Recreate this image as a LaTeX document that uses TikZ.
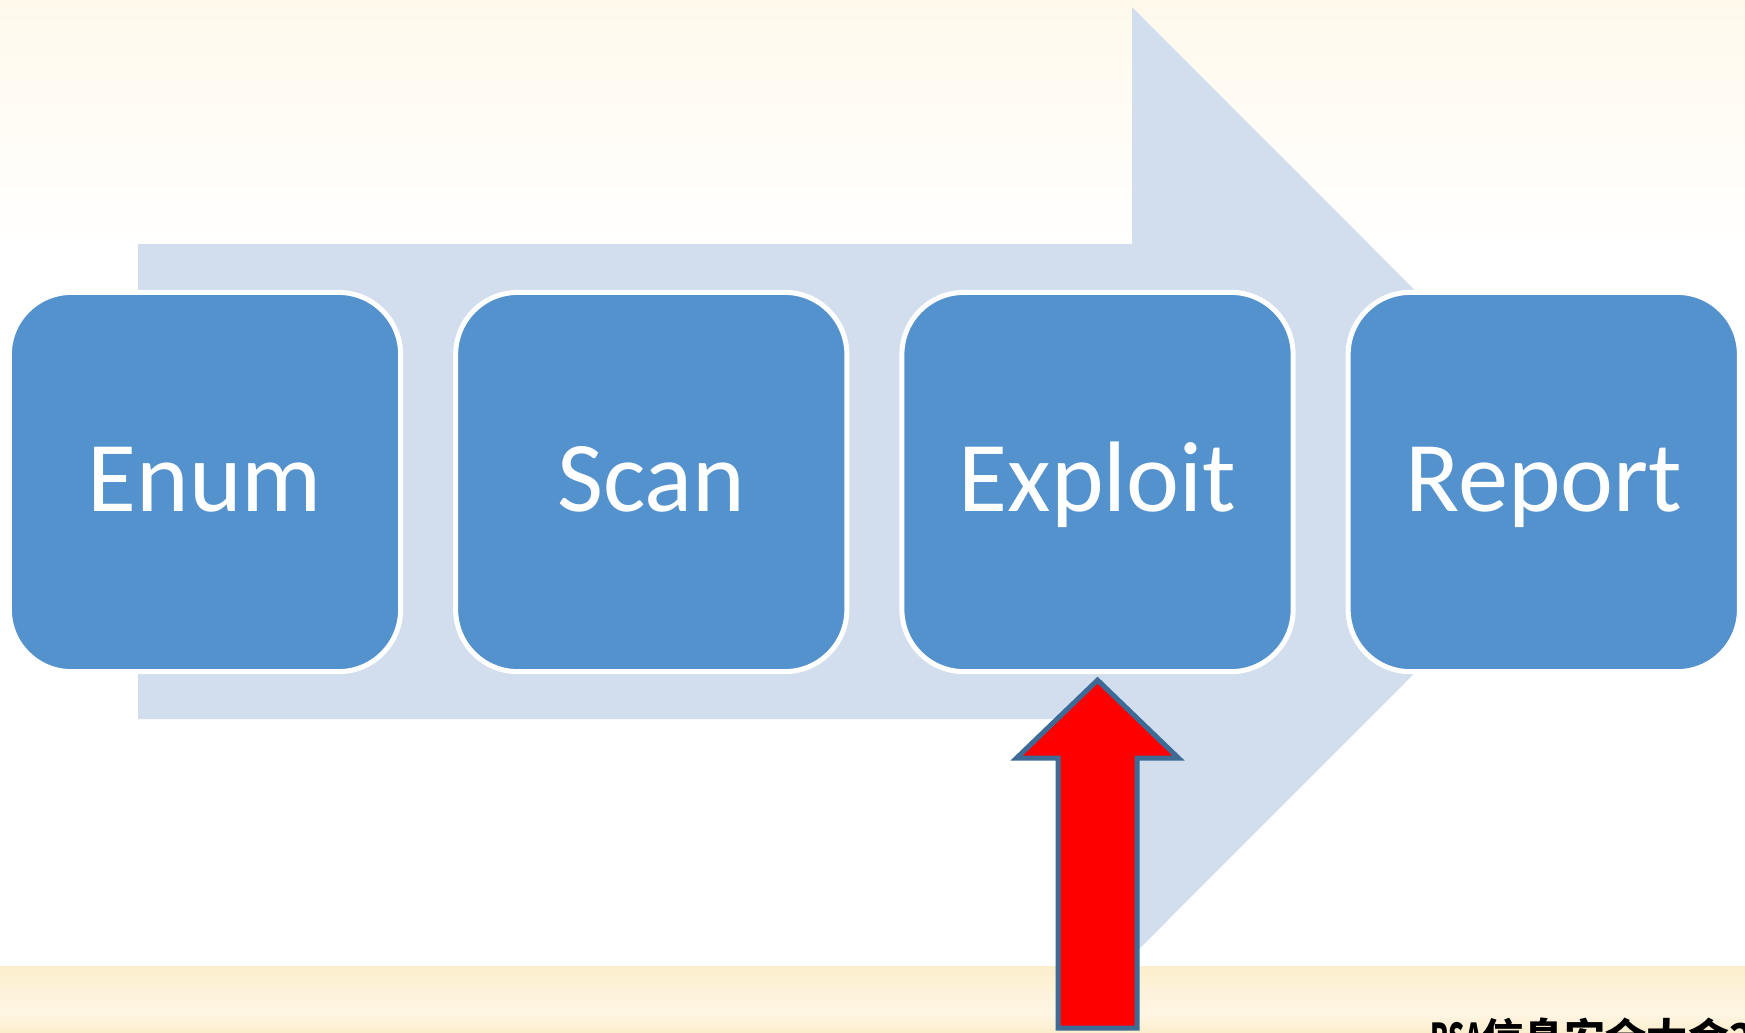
\documentclass[tikz,border=0pt]{standalone}
\usepackage{fontspec}
\setmainfont{Carlito}
\newfontfamily\cjkfont{Noto Sans CJK SC}
\usepackage{tikz}
\usetikzlibrary{calc}
\usetikzlibrary{positioning}
\definecolor{boxblue}{RGB}{84,146,206}
\definecolor{flowblue}{RGB}{210,222,238}
\definecolor{edgeblue}{RGB}{62,106,150}
\definecolor{creamtop}{RGB}{255,249,236}
\definecolor{bandtop}{RGB}{252,238,205}
\definecolor{bandmid}{RGB}{254,246,228}
\tikzstyle{stepbox} = [draw=white, line width=0.05cm, fill=boxblue, rounded corners=0.62cm, minimum width=3.91cm, minimum height=3.79cm, inner sep=0, text=white, text height=0.64cm, text depth=0.06cm, font=\fontsize{28.5pt}{34pt}\selectfont]
\tikzstyle{redarrow} = [draw=edgeblue, line width=0.05cm, fill=red, line join=miter]
\tikzstyle{banner} = [anchor=base west, inner sep=0, font=\cjkfont\bfseries\fontsize{11.7pt}{14pt}\selectfont]

\begin{document}
\begin{tikzpicture}[x=0.01cm, y=-0.01cm]
\useasboundingbox (0,0) rectangle (1745,1032);
\clip (0,0) rectangle (1745,1032);
% slide background
\fill[white] (0,0) rectangle (1745,1032);
\shade[top color=creamtop, bottom color=white] (0,0) rectangle (1745,250);
\shade[top color=bandtop, bottom color=bandmid] (0,966) rectangle (1745,1013);
\shade[top color=bandmid, bottom color=bandtop] (0,1013) rectangle (1745,1032);

% the process arrow behind the steps
\fill[flowblue] (138,244) -- (1132,244) -- (1132,7) -- (1606,481.5) -- (1132,956) -- (1132,719) -- (138,719) -- cycle;

\node[stepbox] (enum) at (205,482) {Enum};
\node[stepbox, right=0.5cm of enum] (scan) {Scan};
\node[stepbox, right=0.5cm of scan] (exploit) {Exploit};
\node[stepbox, right=0.5cm of exploit] (report) {Report};

\coordinate (tip) at ($(exploit.south)+(0,6)$);
\draw[redarrow] (tip) -- ++(81,78) -- ++(-41.5,0) -- ++(0,270) -- ++(-79,0) -- ++(0,-270) -- ++(-41.5,0) -- cycle;

\node[banner] (event) at (1430,1053) {{\addfontfeature{FakeStretch=0.63}RSA}信息安全大会2013};
\end{tikzpicture}
\end{document}
